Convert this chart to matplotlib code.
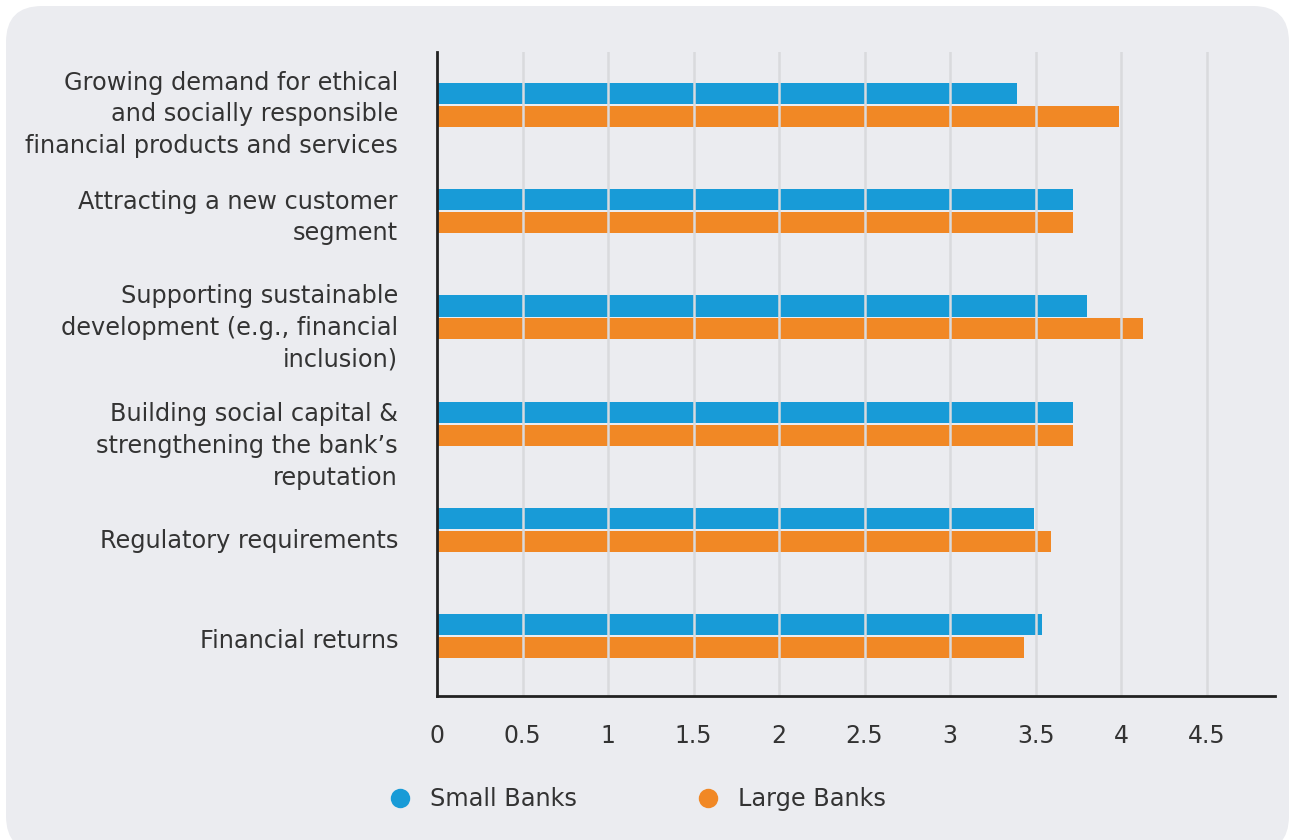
import numpy as np
import matplotlib
matplotlib.use('Agg')
import matplotlib.pyplot as plt
import matplotlib.patches as mpatches
import matplotlib.transforms as mtransforms
from matplotlib.lines import Line2D

plt.rcParams['font.family'] = ['DejaVu Sans']

categories = ['Growing demand for ethical\nand socially responsible\nfinancial products and services',
    'Attracting a new customer\nsegment',
    'Supporting sustainable\ndevelopment (e.g., financial\ninclusion)',
    'Building social capital &\nstrengthening the bank\u2019s\nreputation',
    'Regulatory requirements',
    'Financial returns']

small_banks = [3.39, 3.72, 3.80, 3.72, 3.49, 3.54]
large_banks = [3.99, 3.72, 4.13, 3.72, 3.59, 3.43]

xticks = [0, 0.5, 1, 1.5, 2, 2.5, 3, 3.5, 4, 4.5]
xtick_labels = ['0', '0.5', '1', '1.5', '2', '2.5', '3', '3.5', '4', '4.5']

series_names = ['Small Banks', 'Large Banks']
colors = ['#189bd7', '#f18825']
panel_color = '#ebecf0'
text_color = '#333333'


def plot_bars(fig, ax):
    y = np.arange(len(categories))
    offset = 0.108
    height = 0.198
    ax.barh(y - offset, small_banks, height, color=colors[0], zorder=1)
    ax.barh(y + offset, large_banks, height, color=colors[1], zorder=1)

    ax.set_xlim(0, 4.9)
    ax.set_ylim(5.565, -0.5)
    ax.set_xticks(xticks)
    ax.set_xticklabels(xtick_labels)
    ax.set_yticks([])
    ax.tick_params(axis='x', length=0, pad=20, labelsize=17, labelcolor=text_color)

    # category labels: last-line baseline shift from the bar centre, in px
    baseline_shift = [-48, -29, -49, -61, -18, -12]
    base = mtransforms.blended_transform_factory(ax.transAxes, ax.transData)
    for i, label in enumerate(categories):
        trans = mtransforms.offset_copy(base, fig=fig, x=-39, y=baseline_shift[i], units='dots')
        ax.text(0, i, label, transform=trans, ha='right', va='baseline',
            multialignment='right', linespacing=1.4, fontsize=17.3, color=text_color)

    for x in xticks[1:]:
        ax.axvline(x, color='#d9dadd', lw=1.8, zorder=2)

    for side in ['top', 'right']:
        ax.spines[side].set_visible(False)
    for side in ['left', 'bottom']:
        ax.spines[side].set_color('#222222')
        ax.spines[side].set_linewidth(2)
        ax.spines[side].set_zorder(3)
    ax.patch.set_visible(False)
    return ax


if __name__ == "__main__":
    fig = plt.figure(figsize=(12.9, 8.4), dpi=100)
    fig.patch.set_facecolor('white')

    # rounded grey panel behind everything, in pixel coords
    panel = mpatches.FancyBboxPatch((6, -12), 1283, 846,
        boxstyle='round,pad=0,rounding_size=36',
        facecolor=panel_color, edgecolor='none', transform=None, zorder=0)
    fig.add_artist(panel)

    ax = fig.add_axes([437 / 1290, 1 - 696 / 840, (1275 - 437) / 1290, (696 - 52) / 840])
    plot_bars(fig, ax)

    handles = [Line2D([], [], ls='none', marker='o', markersize=14,
        markerfacecolor=c, markeredgecolor='none') for c in colors]
    fig.legend(handles, series_names, loc='center left',
        bbox_to_anchor=(390 / 1290, 1 - 799 / 840), ncol=2, frameon=False,
        fontsize=17.3, labelcolor=text_color, handlelength=0.8,
        handletextpad=0.85, columnspacing=5.07, borderpad=0, borderaxespad=0)

    fig.savefig('out.png', dpi=100)
